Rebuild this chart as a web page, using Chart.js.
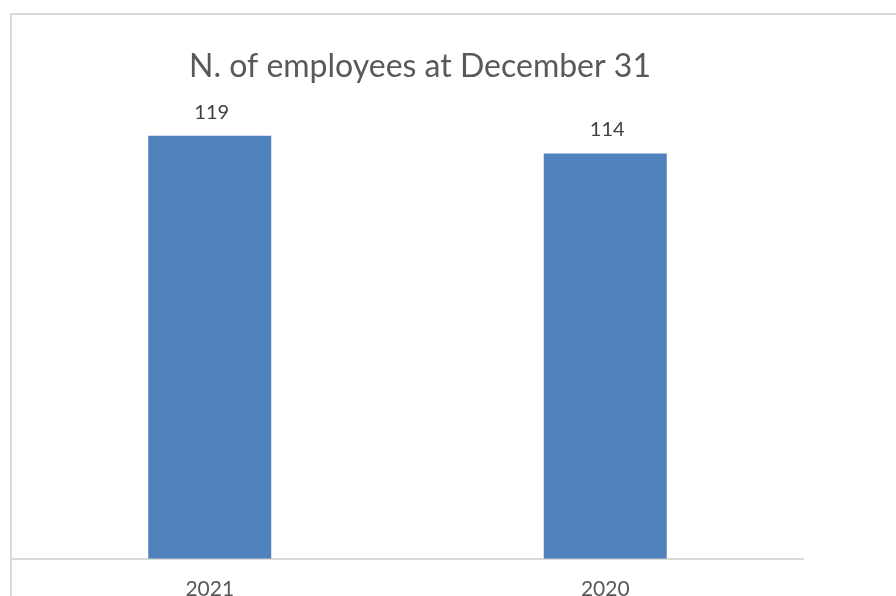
<!DOCTYPE html>
<html lang="en">
<head>
    <meta charset="UTF-8">
    <title>N. of employees at December 31</title>
    <script src="https://cdn.jsdelivr.net/npm/chart.js"></script>
    <style>
        html, body {
            margin: 0;
            padding: 0;
            width: 896px;
            height: 596px;
            overflow: hidden;
            background: #fff;
        }
        /* light grey chart frame, runs off the right and bottom edges */
        .frame {
            position: absolute;
            left: 10px;
            top: 13px;
            width: 1000px;
            height: 1000px;
            border: 2px solid #d9d9d9;
        }
        .chart-container {
            position: absolute;
            left: 0;
            top: 0;
            width: 896px;
            height: 620px;
        }
    </style>
</head>
<body>
    <div class="frame"></div>
    <div class="chart-container">
        <canvas id="employees"></canvas>
    </div>

    <script>
        const chartTitle = 'N. of employees at December 31';
        const years = ['2021', '2020'];
        const employees = [119, 114];

        const FONT = 'Lato, "Open Sans", sans-serif';

        // title is overlaid on the plot like in the spreadsheet chart, so it
        // does not take room from the chart area
        const overlayTitle = {
            id: 'overlayTitle',
            afterDraw(chart) {
                const ctx = chart.ctx;
                ctx.save();
                ctx.fillStyle = '#595959';
                ctx.font = '32px ' + FONT;
                ctx.textAlign = 'center';
                ctx.textBaseline = 'alphabetic';
                ctx.fillText(chartTitle, 420, 77);
                ctx.restore();
            }
        };

        // value labels above each bar
        const barLabels = {
            id: 'barLabels',
            afterDatasetsDraw(chart) {
                const ctx = chart.ctx;
                const meta = chart.getDatasetMeta(0);
                ctx.save();
                ctx.fillStyle = '#404040';
                ctx.font = '20px ' + FONT;
                ctx.textAlign = 'center';
                ctx.textBaseline = 'alphabetic';
                meta.data.forEach((bar, i) => {
                    ctx.fillText(String(employees[i]), bar.x + 2, bar.y - 17);
                });
                ctx.restore();
            }
        };

        new Chart(document.getElementById('employees').getContext('2d'), {
            type: 'bar',
            data: {
                labels: years,
                datasets: [{
                    data: employees,
                    backgroundColor: '#4f81bd',
                    borderWidth: 0,
                    categoryPercentage: 1,
                    barPercentage: 0.311
                }]
            },
            options: {
                responsive: true,
                maintainAspectRatio: false,
                animation: false,
                layout: {
                    padding: { left: 12, right: 93, top: 61, bottom: 0 }
                },
                plugins: {
                    legend: { display: false },
                    tooltip: { enabled: false },
                    title: { display: false }
                },
                scales: {
                    x: {
                        grid: { display: false, drawTicks: false },
                        border: { display: true, color: '#d9d9d9', width: 2 },
                        ticks: {
                            color: '#595959',
                            font: { family: FONT, size: 21 },
                            padding: 18
                        }
                    },
                    y: {
                        display: false,
                        min: 0,
                        max: 140
                    }
                }
            },
            plugins: [barLabels, overlayTitle]
        });
    </script>
</body>
</html>
